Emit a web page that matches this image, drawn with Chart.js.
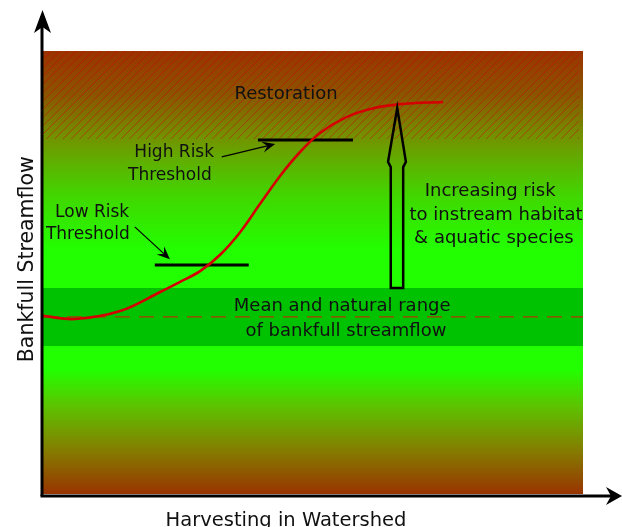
<!DOCTYPE html>
<html>
<head>
<meta charset="utf-8">
<script src="https://cdn.jsdelivr.net/npm/chart.js@4"></script>
<style>
  html, body { margin: 0; padding: 0; background: #fff; }
  #wrap { width: 622px; height: 527px; }
</style>
</head>
<body>
<div id="wrap"><canvas id="c" width="622" height="527"></canvas></div>
<script>
// ---- data (x: harvesting in watershed, y: bankfull streamflow; 0-100 relative units)
const harvest    = [0, 5.9, 14.3, 21.7, 25.4, 29.1, 32.8, 36.5, 40.2, 43.9, 47.6, 51.3, 55.9, 60.6, 66.1, 74.1];
const streamflow = [40.2, 39.5, 41.3, 45.6, 47.9, 50.3, 54.0, 59.1, 65.5, 71.8, 77.2, 81.5, 84.9, 86.9, 88.0, 88.5];
const lowRiskX   = [20.7, 38.1];
const lowRiskY   = 51.7;
const highRiskX  = [39.8, 57.4];
const highRiskY  = 79.9;
const meanFlow   = 40;
const naturalRange = [33.4, 46.5];
const restorationFrom = 80.1;
const axisMin = 0, axisMax = 100;

const FONT = '"DejaVu Sans", Verdana, sans-serif';

const curvePts = harvest.map((x, i) => ({ x, y: streamflow[i] }));

const decor = {
  id: 'decor',
  beforeDatasetsDraw(chart) {
    const { ctx, chartArea: a, scales: { x: xs, y: ys } } = chart;
    ctx.save();
    // vertical gradient background
    const g = ctx.createLinearGradient(0, a.top, 0, a.bottom);
    g.addColorStop(0.00, '#9b3300');
    g.addColorStop(0.10, '#8a5600');
    g.addColorStop(0.19, '#749000');
    g.addColorStop(0.22, '#6aa000');
    g.addColorStop(0.33, '#40d800');
    g.addColorStop(0.45, '#22ff00');
    g.addColorStop(0.72, '#22ff00');
    g.addColorStop(0.80, '#5cc400');
    g.addColorStop(0.90, '#847e00');
    g.addColorStop(1.00, '#993300');
    ctx.fillStyle = g;
    ctx.fillRect(a.left, a.top, a.right - a.left, a.bottom - a.top);

    // natural range band
    const bTop = ys.getPixelForValue(naturalRange[1]);
    const bBot = ys.getPixelForValue(naturalRange[0]);
    ctx.fillStyle = '#00c200';
    ctx.fillRect(a.left, bTop, a.right - a.left, bBot - bTop);

    // restoration hatching
    const hTop = ys.getPixelForValue(axisMax);
    const hBot = ys.getPixelForValue(restorationFrom);
    ctx.beginPath();
    ctx.rect(a.left, hTop, a.right - a.left - 4, hBot - hTop);
    ctx.clip();
    ctx.strokeStyle = 'rgba(205,0,0,0.5)';
    ctx.lineWidth = 1;
    const h = hBot - hTop;
    for (let x0 = a.left - h; x0 < a.right + 10; x0 += 8.3) {
      ctx.beginPath();
      ctx.moveTo(x0, hBot);
      ctx.lineTo(x0 + h, hTop);
      ctx.stroke();
    }
    ctx.restore();
  },
  afterDatasetsDraw(chart) {
    const { ctx, chartArea: a, scales: { x: xs, y: ys } } = chart;
    const P = (x, y) => [xs.getPixelForValue(x), ys.getPixelForValue(y)];
    ctx.save();

    // axes with arrows
    ctx.strokeStyle = '#000';
    ctx.fillStyle = '#000';
    ctx.lineWidth = 3;
    const ax = a.left - 1, ay = a.bottom + 2;
    ctx.beginPath();
    ctx.moveTo(ax, ay);
    ctx.lineTo(ax, 16);
    ctx.stroke();
    ctx.beginPath();
    ctx.moveTo(ax - 1.5, ay);
    ctx.lineTo(617, ay);
    ctx.stroke();
    // y arrow head
    ctx.beginPath();
    ctx.moveTo(ax + 0.5, 10);
    ctx.lineTo(ax + 9, 33);
    ctx.lineTo(ax + 0.5, 27);
    ctx.lineTo(ax - 8, 33);
    ctx.closePath();
    ctx.fill();
    // x arrow head
    ctx.beginPath();
    ctx.moveTo(622, ay);
    ctx.lineTo(606, ay - 9);
    ctx.lineTo(611, ay);
    ctx.lineTo(606, ay + 9);
    ctx.closePath();
    ctx.fill();

    // big "increasing risk" arrow (outline only)
    const sL = 64.4, sR = 66.7, hL = 63.9, hR = 67.2, tipX = 65.6;
    const yB = naturalRange[1], yN = 73.8, yW = 75.0, yT = 87.1;
    ctx.lineWidth = 2.5;
    ctx.lineJoin = 'miter';
    ctx.beginPath();
    ctx.moveTo(...P(sL, yB));
    ctx.lineTo(...P(sL, yN));
    ctx.lineTo(...P(hL, yW));
    ctx.lineTo(...P(tipX, yT));
    ctx.lineTo(...P(hR, yW));
    ctx.lineTo(...P(sR, yN));
    ctx.lineTo(...P(sR, yB));
    ctx.closePath();
    ctx.stroke();

    // label pointer arrows
    function pointer(x1, y1, x2, y2) {
      const [p1x, p1y] = P(x1, y1), [p2x, p2y] = P(x2, y2);
      const ang = Math.atan2(p2y - p1y, p2x - p1x);
      ctx.lineWidth = 1.2;
      ctx.beginPath();
      ctx.moveTo(p1x, p1y);
      ctx.lineTo(p2x - 6 * Math.cos(ang), p2y - 6 * Math.sin(ang));
      ctx.stroke();
      const L = 13, W = 5.5;
      ctx.beginPath();
      ctx.moveTo(p2x, p2y);
      ctx.lineTo(p2x - L * Math.cos(ang) + W * Math.sin(ang), p2y - L * Math.sin(ang) - W * Math.cos(ang));
      ctx.lineTo(p2x - 8 * Math.cos(ang), p2y - 8 * Math.sin(ang));
      ctx.lineTo(p2x - L * Math.cos(ang) - W * Math.sin(ang), p2y - L * Math.sin(ang) + W * Math.cos(ang));
      ctx.closePath();
      ctx.fill();
    }
    pointer(33.1, 76.1, 43.0, 79.0);
    pointer(17.0, 60.3, 23.5, 53.0);

    // texts
    ctx.fillStyle = '#111';
    ctx.textAlign = 'center';
    ctx.textBaseline = 'alphabetic';
    function txt(s, x, y, size) {
      ctx.font = size + 'px ' + FONT;
      const [px, py] = P(x, y);
      ctx.fillText(s, px, py);
    }
    txt('Restoration', 45.0, 89.2, 18);
    txt('High Risk', 24.3, 76.1, 17);
    txt('Threshold', 23.5, 70.9, 17);
    txt('Low Risk', 9.1, 62.5, 17);
    txt('Threshold', 8.3, 57.6, 17);
    txt('Increasing risk', 82.8, 67.3, 18);
    txt('to instream habitat', 83.9, 61.9, 18);
    txt('& aquatic species', 83.5, 56.7, 18);
    txt('Mean and natural range', 55.4, 41.3, 18);
    txt('of bankfull streamflow', 56.1, 35.7, 18);

    // axis titles
    ctx.font = '19.5px ' + FONT;
    ctx.fillText('Harvesting in Watershed', xs.getPixelForValue(45.0), a.bottom + 32);
    ctx.save();
    ctx.translate(a.left - 10, ys.getPixelForValue(53.0));
    ctx.rotate(-Math.PI / 2);
    ctx.font = '20.5px ' + FONT;
    ctx.fillText('Bankfull Streamflow', 0, 0);
    ctx.restore();

    ctx.restore();
  }
};

new Chart(document.getElementById('c'), {
  type: 'line',
  data: {
    datasets: [
      {
        label: 'Streamflow response',
        data: curvePts,
        borderColor: '#d40000',
        borderWidth: 2.6,
        pointRadius: 0,
        tension: 0.35,
        fill: false,
        order: 1
      },
      {
        label: 'Low Risk Threshold',
        data: lowRiskX.map(x => ({ x, y: lowRiskY })),
        borderColor: '#000',
        borderWidth: 3,
        pointRadius: 0,
        order: 2
      },
      {
        label: 'High Risk Threshold',
        data: highRiskX.map(x => ({ x, y: highRiskY })),
        borderColor: '#000',
        borderWidth: 3,
        pointRadius: 0,
        order: 2
      },
      {
        label: 'Mean bankfull streamflow',
        data: [{ x: axisMin, y: meanFlow }, { x: axisMax, y: meanFlow }],
        borderColor: '#b03a00',
        borderWidth: 1.2,
        borderDash: [15, 9],
        pointRadius: 0,
        order: 3
      }
    ]
  },
  options: {
    responsive: false,
    animation: false,
    events: [],
    layout: { padding: { left: 43, right: 39, top: 51, bottom: 33 } },
    scales: {
      x: { type: 'linear', min: axisMin, max: axisMax, display: false },
      y: { type: 'linear', min: axisMin, max: axisMax, display: false }
    },
    plugins: {
      legend: { display: false },
      title: { display: false },
      tooltip: { enabled: false }
    }
  },
  plugins: [decor]
});
</script>
</body>
</html>
